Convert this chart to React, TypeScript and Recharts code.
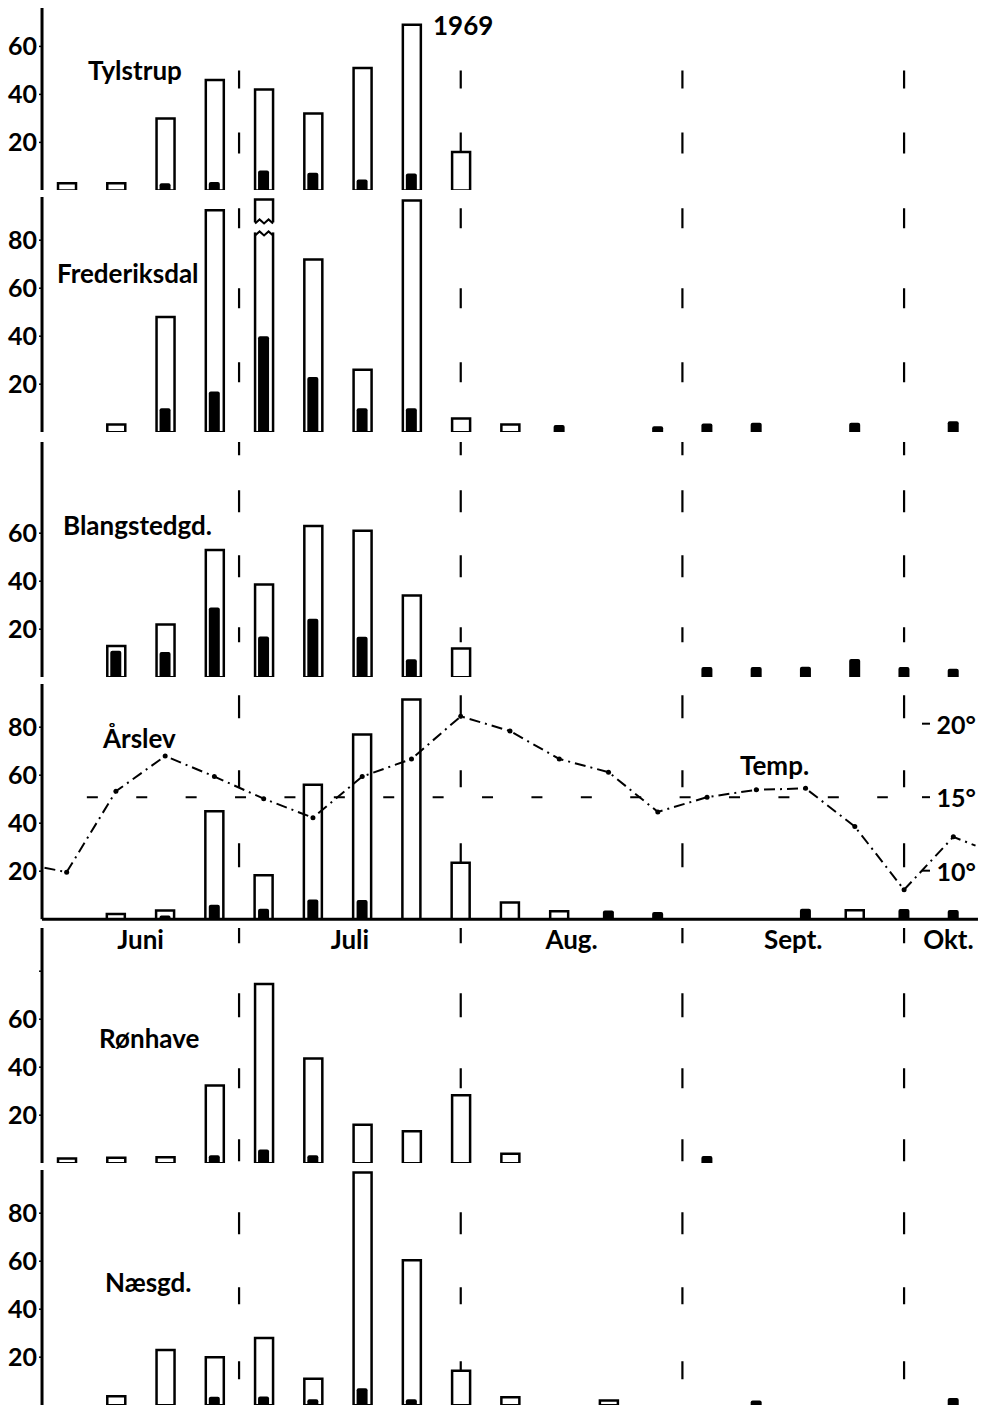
import React from 'react';
import { ComposedChart, Bar, Line, XAxis, YAxis, ReferenceLine, Rectangle } from 'recharts';

// ---------- DATA ----------
const weekSlots = [0, 1, 2, 3, 4, 5, 6, 7, 8, 9, 10, 11, 12, 13, 14, 15, 16, 17, 18];

const tylstrupTotal = [3, 3, 30, 46, 42, 32, 51, 69, 16, null, null, null, null, null, null, null, null, null, null];
const tylstrupBlack = [null, null, 3, 3.5, 8.3, 7.4, 4.5, 7, null, null, null, null, null, null, null, null, null, null, null];

const frederiksdalTotal = [null, 3.2, 48, 92.5, 97, 72, 26, 96.5, 5.7, 3.2, null, null, null, null, null, null, null, null, null];
const frederiksdalBlack = [null, null, 10, 17, 40, 23, 10, 10, null, null, 3, null, 2.5, 3.6, 3.9, null, 3.9, null, 4.6];
const frederiksdalBroken = [4];

const blangstedTotal = [null, 13, 22, 53, 38.6, 63, 61, 34, 12, null, null, null, null, null, null, null, null, null, null];
const blangstedBlack = [null, 11, 10.5, 29, 17, 24.4, 16.8, 7.5, null, null, null, null, null, 4.2, 4.2, 4.4, 7.6, 4.2, 3.5];

const arslevTotal = [null, 2.2, 3.6, 45, 18.3, 56, 77, 91.5, 23.5, 7, 3.3, null, null, null, null, null, 3.7, null, null];
const arslevBlack = [null, null, 1.5, 6, 4.3, 8.2, 8, null, null, null, null, 3.6, 3, null, null, 4.4, null, 4.2, 3.8];

const ronhaveTotal = [2, 2.3, 2.5, 32.4, 74.7, 43.6, 16, 13.3, 28.3, 3.9, null, null, null, null, null, null, null, null, null];
const ronhaveBlack = [null, null, null, 3.3, 5.7, 3.3, null, null, null, null, null, null, null, 3, null, null, null, null, null];

const naesgdTotal = [null, 3.7, 23, 20, 28, 11, 97, 60.4, 14.3, 3.3, null, 2, null, null, null, null, null, null, null];
const naesgdBlack = [null, null, null, 3.5, 3.6, 2.5, 7.1, 2.5, null, null, null, null, null, null, 2, null, null, null, 3];

// Årslev temperature (°C), one per week slot, plus readings where the line meets the frame
const arslevTemp = [9.9, 15.4, 17.8, 16.4, 14.9, 13.6, 16.4, 17.6, 20.5, 19.5, 17.6, 16.7, 14.0, 15.0, 15.5, 15.6, 13.0, 8.7, 12.3];
const tempEdgeLeft = { x: -0.45, t: 10.2 };
const tempEdgeRight = { x: 18.45, t: 11.7 };
const tempTicks = [10, 15, 20];
const tempReference = 15;
const tempRefSpan = [0.41, 16.67];

const monthNames = ['Juni', 'Juli', 'Aug.', 'Sept.', 'Okt.'];
const monthLabelPos = [1.5, 5.75, 10.25, 14.75, 17.9];
const monthBoundaries = [3.5, 8, 12.5, 17];

// ---------- LAYOUT ----------
const FONT = 'Lato, "DejaVu Sans", sans-serif';
const PAGE_W = 985;
const PAGE_H = 1407;
const PLOT_LEFT = 42;
const PLOT_RIGHT = 978;
const PX_PER_UNIT = 2.4;
const MT = 2;

type PanelSpec = {
  key: string;
  total: (number | null)[];
  black: (number | null)[];
  baseline: number;
  max: number;
  ticks: number[];
  unlabeled?: number[];
  dashes: number[]; // month-line dash pattern, read from the baseline upward: gap, dash, gap, dash ...
  months?: boolean;
  temp?: boolean;
  broken?: number[];
};

const panels: PanelSpec[] = [
  { key: 'tyl', total: tylstrupTotal, black: tylstrupBlack, baseline: 190, max: 76, ticks: [20, 40, 60], dashes: [37, 21, 44, 18, 400] },
  { key: 'fre', total: frederiksdalTotal, black: frederiksdalBlack, baseline: 432, max: 98, ticks: [20, 40, 60, 80], dashes: [50, 20, 54, 20, 60, 20, 400], broken: frederiksdalBroken },
  { key: 'bla', total: blangstedTotal, black: blangstedBlack, baseline: 677, max: 98, ticks: [20, 40, 60], dashes: [35, 15, 50, 22, 43, 22, 35, 17, 400] },
  { key: 'ars', total: arslevTotal, black: arslevBlack, baseline: 919, max: 98, ticks: [20, 40, 60, 80], dashes: [52, 24, 56, 17, 52, 23, 400], months: true, temp: true },
  { key: 'ron', total: ronhaveTotal, black: ronhaveBlack, baseline: 1163, max: 98, ticks: [20, 40, 60, 80], unlabeled: [80], dashes: [2, 22, 51, 20, 51, 24, 50, 16, 400] },
  { key: 'nae', total: naesgdTotal, black: naesgdBlack, baseline: 1405.5, max: 98, ticks: [20, 40, 60, 80], dashes: [26, 18, 57, 17, 53, 22, 400] },
];

const textLabels = [
  { text: '1969', x: 433, y: 35 },
  { text: 'Tylstrup', x: 88, y: 80 },
  { text: 'Frederiksdal', x: 57, y: 283 },
  { text: 'Blangstedgd.', x: 63, y: 535 },
  { text: 'Årslev', x: 103, y: 748 },
  { text: 'Temp.', x: 740, y: 775 },
  { text: 'Rønhave', x: 99, y: 1048 },
  { text: 'Næsgd.', x: 105, y: 1292 },
];

const TempTick = (props: any) => {
  const { y, payload } = props;
  return (
    <g>
      <line x1={PLOT_RIGHT - 56} x2={PLOT_RIGHT - 48} y1={y} y2={y} stroke="#000" strokeWidth={2} />
      <text x={PLOT_RIGHT - 2} y={y} textAnchor="end" dominantBaseline="central" fill="#000" fontSize={25} fontWeight={700} fontFamily={FONT}>
        {`${payload.value}°`}
      </text>
    </g>
  );
};

function Panel({ spec }: { spec: PanelSpec }) {
  const plotH = spec.max * PX_PER_UNIT;
  const xAxisH = spec.months ? 40 : 0;
  const height = MT + plotH + xAxisH;
  const top = spec.baseline - plotH - MT;
  const rows = weekSlots.map((x, i) => ({ x, total: spec.total[i], black: spec.black[i] }));
  const tempRows = [
    { ...tempEdgeLeft, edge: true },
    ...weekSlots.map((x, i) => ({ x, t: arslevTemp[i], edge: false })),
    { ...tempEdgeRight, edge: true },
  ];
  const dashArray = ['0', ...spec.dashes.map(String)].join(' ');
  const margin = { top: MT, right: PAGE_W - PLOT_RIGHT, bottom: 0, left: 0 };

  const openShape = (p: any) => {
    const { x, y, width, height: h, payload } = p;
    if (!h || h <= 0) return <g />;
    const rect = <Rectangle x={x} y={y} width={width} height={h} fill="#fff" stroke="#000" strokeWidth={2.5} />;
    if (!spec.broken || !payload || !spec.broken.includes(payload.x)) return rect;
    const y1 = y + 24;
    const y2 = y + 36;
    const zig = (yy: number) =>
      `M${x},${yy} L${x + width * 0.25},${yy - 4} L${x + width * 0.5},${yy} L${x + width * 0.75},${yy - 4} L${x + width},${yy}`;
    return (
      <g>
        {rect}
        <rect x={x - 3} y={y1 - 1} width={width + 6} height={y2 - y1 - 2} fill="#fff" />
        <path d={zig(y1)} fill="none" stroke="#000" strokeWidth={2} />
        <path d={zig(y2)} fill="none" stroke="#000" strokeWidth={2} />
      </g>
    );
  };

  const monthLine = (p: any) => {
    const yb = Math.max(p.y1, p.y2);
    const yt = Math.min(p.y1, p.y2);
    return <line x1={p.x1} x2={p.x2} y1={yb} y2={yt} stroke="#000" strokeWidth={2.2} strokeDasharray={dashArray} />;
  };

  const tempDot = (p: any) => {
    const { cx, cy, payload, index } = p;
    if (payload.edge) return <g key={`d${index}`} />;
    return <circle key={`d${index}`} cx={cx} cy={cy} r={2.5} fill="#000" />;
  };

  const xDomain: [number, number] = [-0.5, 18.5];

  return (
    <>
      {/* background layer: month divider lines (behind the bars) */}
      <div style={{ position: 'absolute', left: 0, top, width: PAGE_W, height }}>
        <ComposedChart width={PAGE_W} height={height} data={rows} margin={margin}>
          <XAxis xAxisId="a" type="number" dataKey="x" domain={xDomain} allowDataOverflow height={xAxisH}
            axisLine={false} tickLine={false} tick={false} />
          <YAxis yAxisId="left" type="number" domain={[0, spec.max]} allowDataOverflow width={PLOT_LEFT}
            axisLine={false} tickLine={false} tick={false} />
          {monthBoundaries.map((b) => (
            <ReferenceLine key={`m${b}`} x={b} xAxisId="a" yAxisId="left" stroke="#000" shape={monthLine} />
          ))}
        </ComposedChart>
      </div>
      {/* foreground layer */}
      <div style={{ position: 'absolute', left: 0, top, width: PAGE_W, height }}>
        <ComposedChart width={PAGE_W} height={height} data={rows} margin={margin}>
          <XAxis
            xAxisId="a"
            type="number"
            dataKey="x"
            domain={xDomain}
            allowDataOverflow
            height={xAxisH}
            axisLine={{ stroke: '#000', strokeWidth: 3 }}
            tickLine={false}
            tickSize={0}
            tickMargin={11}
            ticks={spec.months ? monthLabelPos : []}
            interval={0}
            tick={spec.months ? { fill: '#000', fontSize: 26, fontWeight: 700, fontFamily: FONT } : false}
            tickFormatter={(v: number) => monthNames[monthLabelPos.indexOf(v)] ?? ''}
          />
          <XAxis xAxisId="b" type="number" dataKey="x" domain={xDomain} allowDataOverflow hide />
          <YAxis
            yAxisId="left"
            type="number"
            domain={[0, spec.max]}
            allowDataOverflow
            ticks={spec.ticks}
            interval={0}
            width={PLOT_LEFT}
            axisLine={{ stroke: '#000', strokeWidth: 3 }}
            tickLine={{ stroke: '#000', strokeWidth: 1.5 }}
            tickSize={3}
            tickMargin={2}
            tick={{ fill: '#000', fontSize: 25, fontWeight: 700, fontFamily: FONT }}
            tickFormatter={(v: number) => (spec.unlabeled && spec.unlabeled.includes(v) ? '' : String(v))}
          />
          {spec.temp && (
            <YAxis
              yAxisId="temp"
              orientation="right"
              mirror
              type="number"
              domain={[6.7, 22.7]}
              allowDataOverflow
              ticks={tempTicks}
              interval={0}
              width={1}
              axisLine={false}
              tickLine={false}
              tick={(p: any) => <TempTick {...p} />}
            />
          )}
          {spec.temp && (
            <ReferenceLine
              xAxisId="a"
              yAxisId="temp"
              segment={[{ x: tempRefSpan[0], y: tempReference }, { x: tempRefSpan[1], y: tempReference }]}
              stroke="#000"
              strokeWidth={2}
              strokeDasharray="11 38.4"
            />
          )}
          <Bar xAxisId="a" yAxisId="left" dataKey="total" barSize={18} fill="#fff" stroke="#000"
            strokeWidth={2.5} isAnimationActive={false} shape={openShape} />
          <Bar xAxisId="b" yAxisId="left" dataKey="black" barSize={11} fill="#000"
            radius={[2, 2, 0, 0]} isAnimationActive={false} />
          {spec.temp && (
            <Line
              data={tempRows}
              xAxisId="a"
              yAxisId="temp"
              dataKey="t"
              type="linear"
              stroke="#000"
              strokeWidth={2}
              strokeDasharray="11 5 2 5"
              dot={tempDot}
              activeDot={false}
              isAnimationActive={false}
            />
          )}
        </ComposedChart>
      </div>
    </>
  );
}

export default function App() {
  return (
    <div style={{ position: 'absolute', left: 0, top: 0, width: PAGE_W, height: PAGE_H, overflow: 'hidden', background: '#fff' }}>
      {panels.map((p) => (
        <Panel key={p.key} spec={p} />
      ))}
      <svg width={PAGE_W} height={PAGE_H} style={{ position: 'absolute', left: 0, top: 0, pointerEvents: 'none' }}>
        {textLabels.map((t) => (
          <text key={t.text} x={t.x} y={t.y} fill="#000" fontSize={26} fontWeight={700} fontFamily={FONT}>
            {t.text}
          </text>
        ))}
      </svg>
    </div>
  );
}
